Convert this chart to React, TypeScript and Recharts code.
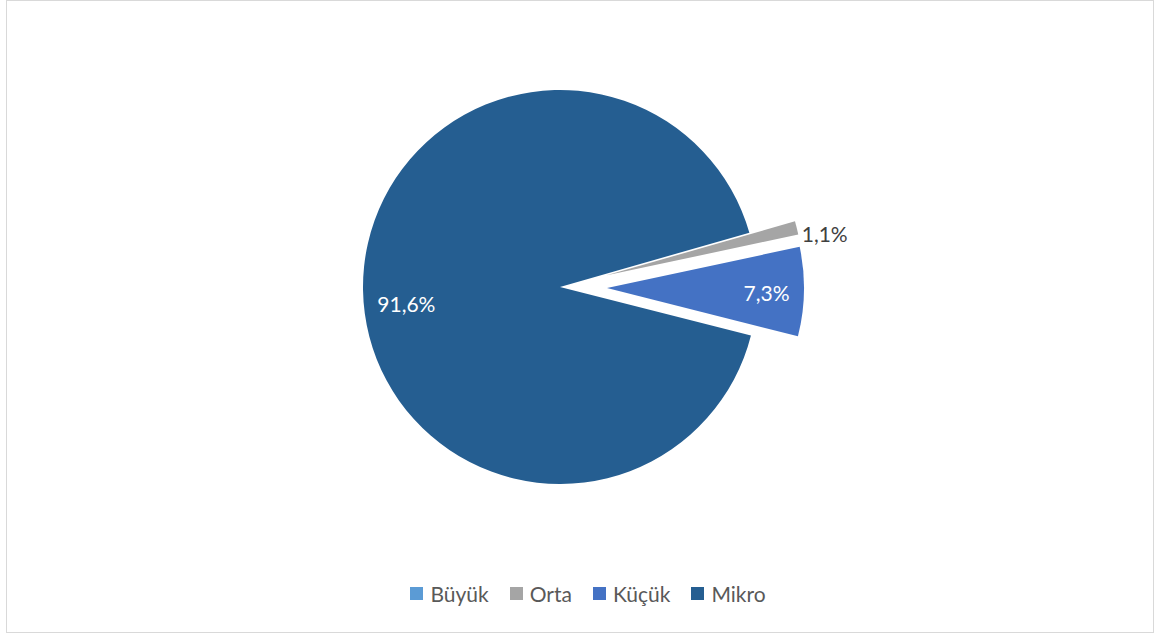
import React from 'react';
import { PieChart, Pie, Cell, Legend } from 'recharts';

// ---- data ----
const categories = ['Büyük', 'Orta', 'Küçük', 'Mikro'];
const shares = [0.0, 1.1, 7.3, 91.6];
const colors = ['#5B9BD5', '#A5A5A5', '#4472C4', '#255E91'];
const exploded = [false, true, true, false];

// ---- layout / style ----
const W = 1155;
const H = 634;
const CX = 560;
const CY = 287;
const R = 197;
const START = 16;
const EXPLODE = 47;
const FONT = 'Lato, "Open Sans", sans-serif';
const RAD = Math.PI / 180;

const labelStyle: Record<string, { mode: 'in' | 'out'; rf?: number; dx?: number; dy?: number; fill: string }> = {
  'Mikro': { mode: 'in', rf: 0.78, dy: 14, fill: '#FFFFFF' },
  'Küçük': { mode: 'in', rf: 0.81, dy: 2, fill: '#FFFFFF' },
  'Orta': { mode: 'out', dx: 5, dy: 6, fill: '#404040' },
  'Büyük': { mode: 'out', dx: 5, dy: 6, fill: '#404040' },
};

const data = categories.map((c, i) => ({ name: c, value: shares[i] }));
const total = shares.reduce((a, b) => a + b, 0);

function midAngleOf(i: number) {
  const before = shares.slice(0, i).reduce((a, b) => a + b, 0);
  const mid = before + shares[i] / 2;
  return START - (mid / total) * 360;
}

const fmt = (v: number) => v.toFixed(1).replace('.', ',') + '%';

function makeLabel(visible: number[]) {
  return (props: any) => {
    const { index, cx, cy, midAngle, outerRadius } = props;
    if (!visible.includes(index)) return null;
    if (!(shares[index] > 0)) return null;
    const st = labelStyle[categories[index]];
    const cos = Math.cos(-midAngle * RAD);
    const sin = Math.sin(-midAngle * RAD);
    if (st.mode === 'in') {
      const r = outerRadius * (st.rf || 0.8);
      return (
        <text
          x={cx + r * cos + (st.dx || 0)}
          y={cy + r * sin + (st.dy || 0)}
          fill={st.fill}
          textAnchor="middle"
          dominantBaseline="central"
          fontFamily={FONT}
          fontSize={21}
        >
          {fmt(shares[index])}
        </text>
      );
    }
    return (
      <text
        x={cx + outerRadius * cos + (st.dx || 0)}
        y={cy + outerRadius * sin + (st.dy || 0)}
        fill={st.fill}
        textAnchor="start"
        dominantBaseline="central"
        fontFamily={FONT}
        fontSize={21}
      >
        {fmt(shares[index])}
      </text>
    );
  };
}

const baseVisible = categories.map((_, i) => i).filter((i) => !exploded[i]);
const explodedIdx = categories.map((_, i) => i).filter((i) => exploded[i]);

function LegendContent() {
  return (
    <div
      style={{
        display: 'flex',
        justifyContent: 'center',
        alignItems: 'center',
        fontFamily: FONT,
        fontSize: 21,
        color: '#595959',
        lineHeight: '21px',
      }}
    >
      {categories.map((c, i) => (
        <div key={c} style={{ display: 'flex', alignItems: 'center', marginRight: i < categories.length - 1 ? 21 : 0 }}>
          <span style={{ display: 'inline-block', width: 13, height: 13, background: colors[i], marginRight: 7 }} />
          <span>{c}</span>
        </div>
      ))}
    </div>
  );
}

export default function App() {
  return (
    <div style={{ position: 'absolute', left: 0, top: 0, width: W, height: H, background: '#fff' }}>
      <div
        style={{
          position: 'absolute',
          left: 6,
          top: 0,
          width: 1148,
          height: 633,
          boxSizing: 'border-box',
          border: '1px solid #D9D9D9',
        }}
      />
      <div style={{ position: 'absolute', left: 0, top: 0 }}>
        <PieChart width={W} height={H} margin={{ top: 0, right: 0, bottom: 0, left: 0 }}>
          <Pie
            data={data}
            dataKey="value"
            nameKey="name"
            cx={CX}
            cy={CY}
            outerRadius={R}
            startAngle={START}
            endAngle={START - 360}
            stroke="none"
            isAnimationActive={false}
            labelLine={false}
            label={makeLabel(baseVisible)}
            legendType="none"
          >
            {data.map((d, i) => (
              <Cell key={d.name} fill={exploded[i] ? 'none' : colors[i]} />
            ))}
          </Pie>
          {explodedIdx.map((k) => {
            const m = midAngleOf(k);
            const ecx = CX + EXPLODE * Math.cos(m * RAD);
            const ecy = CY - EXPLODE * Math.sin(m * RAD);
            return (
              <Pie
                key={'ex' + k}
                data={data}
                dataKey="value"
                nameKey="name"
                cx={ecx}
                cy={ecy}
                outerRadius={R}
                startAngle={START}
                endAngle={START - 360}
                stroke="none"
                isAnimationActive={false}
                labelLine={false}
                label={makeLabel([k])}
                legendType="none"
              >
                {data.map((d, i) => (
                  <Cell key={d.name} fill={i === k ? colors[i] : 'none'} />
                ))}
              </Pie>
            );
          })}
          <Legend
            verticalAlign="bottom"
            content={<LegendContent />}
            wrapperStyle={{ position: 'absolute', left: 21, top: 583, width: 1134 }}
          />
        </PieChart>
      </div>
    </div>
  );
}
